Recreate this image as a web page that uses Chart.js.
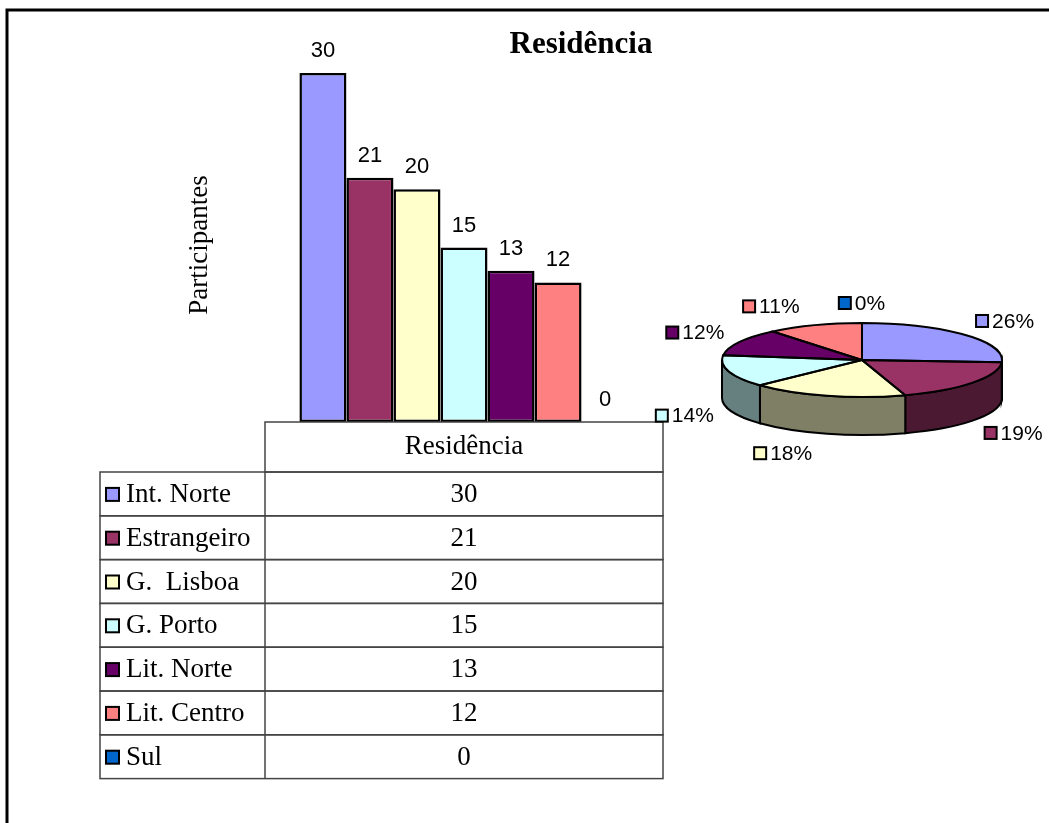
<!DOCTYPE html>
<html>
<head>
<meta charset="utf-8">
<title>Residência</title>
<script src="https://cdn.jsdelivr.net/npm/chart.js@4.4.1/dist/chart.umd.min.js"></script>
<style>
  html, body { margin: 0; padding: 0; background: #fff; }
  #wrap { position: relative; width: 1049px; height: 823px; overflow: hidden; }
  #wrap canvas { position: absolute; left: 0; top: 0; }
  #pieChart { pointer-events: none; }
</style>
</head>
<body>
<div id="wrap">
  <canvas id="barChart" width="1049" height="823"></canvas>
  <canvas id="pieChart" width="1049" height="823"></canvas>
</div>
<script>
// dados
var categorias = ['Int. Norte', 'Estrangeiro', 'G.  Lisboa', 'G. Porto', 'Lit. Norte', 'Lit. Centro', 'Sul'];
var participantes = [30, 21, 20, 15, 13, 12, 0];
var percentagens = [26, 19, 18, 14, 12, 11, 0];
var serie = 'Residência';

var cores = ['#9999FF', '#993366', '#FFFFCC', '#CCFFFF', '#660066', '#FF8080', '#0066CC'];
// lados do bolo 3D = metade da luminosidade
var coresLado = cores.map(function (c) {
    var n = parseInt(c.slice(1), 16);
    var r = (n >> 16) >> 1, g = ((n >> 8) & 255) >> 1, b = (n & 255) >> 1;
    return 'rgb(' + r + ',' + g + ',' + b + ')';
});

var SERIF = "'Liberation Serif', 'Times New Roman', serif";
var SANS = "'Liberation Sans', Arial, sans-serif";

function chave(ctx, x, y, cor, lado) {
    ctx.fillStyle = cor;
    ctx.fillRect(x, y, lado, lado);
    ctx.lineWidth = 2;
    ctx.strokeStyle = '#000';
    ctx.strokeRect(x, y, lado, lado);
}

// moldura, titulo, etiquetas das barras e tabela de dados
var tabelaPlugin = {
    id: 'tabela',
    afterDraw: function (chart) {
        var ctx = chart.ctx;
        var area = chart.chartArea;
        ctx.save();

        ctx.lineWidth = 3;
        ctx.strokeStyle = '#000';
        ctx.strokeRect(7, 10, 1100, 900);

        ctx.fillStyle = '#000';
        ctx.font = 'bold 31px ' + SERIF;
        ctx.textAlign = 'center';
        ctx.textBaseline = 'middle';
        ctx.fillText(serie, 581, 45);

        ctx.save();
        ctx.translate(200, 245);
        ctx.rotate(-Math.PI / 2);
        ctx.font = '27px ' + SERIF;
        ctx.fillText('Participantes', 0, 0);
        ctx.restore();

        // valores por cima das barras
        ctx.font = '22px ' + SANS;
        chart.data.datasets.forEach(function (ds, i) {
            var bar = chart.getDatasetMeta(i).data[0];
            ctx.fillText(String(ds.data[0]), bar.x, bar.y - 22);
        });

        // tabela
        var x0 = 100, x1 = area.left, x2 = area.right;
        var topo = area.bottom, cab = 50, linha = 43.8;
        ctx.strokeStyle = '#444';
        ctx.lineWidth = 1.5;
        ctx.strokeRect(x1, topo, x2 - x1, cab);
        ctx.font = '27px ' + SERIF;
        ctx.fillStyle = '#000';
        ctx.fillText(serie, (x1 + x2) / 2, topo + cab / 2);

        categorias.forEach(function (nome, i) {
            var y = topo + cab + i * linha;
            ctx.strokeStyle = '#444';
            ctx.lineWidth = 1.5;
            ctx.strokeRect(x0, y, x2 - x0, linha);
            ctx.beginPath();
            ctx.moveTo(x1, y);
            ctx.lineTo(x1, y + linha);
            ctx.stroke();
            chave(ctx, x0 + 6, y + linha / 2 - 6, cores[i], 13);
            ctx.fillStyle = '#000';
            ctx.textAlign = 'left';
            ctx.fillText(nome, x0 + 26, y + linha / 2 + 1);
            ctx.textAlign = 'center';
            ctx.fillText(String(participantes[i]), (x1 + x2) / 2, y + linha / 2 + 1);
        });
        ctx.restore();
    }
};

var barChart = new Chart(document.getElementById('barChart'), {
    type: 'bar',
    data: {
        labels: [serie],
        datasets: categorias.map(function (nome, i) {
            return {
                label: nome,
                data: [participantes[i]],
                backgroundColor: cores[i],
                borderColor: '#000',
                borderWidth: 2.5,
                borderSkipped: false,
                categoryPercentage: 0.827,
                barPercentage: 1
            };
        })
    },
    options: {
        responsive: false,
        animation: false,
        layout: { padding: { left: 265, right: 386, top: 73, bottom: 401 } },
        scales: {
            x: { display: false },
            y: { display: false, min: 0, max: 30 }
        },
        plugins: { legend: { display: false }, tooltip: { enabled: false } }
    },
    plugins: [tabelaPlugin]
});

// bolo em perspetiva: achata o desenho e acrescenta a parede da frente
var ACHATAR = 37 / 140;
var ALTURA = 38;

var bolo3d = {
    id: 'bolo3d',
    beforeDatasetsDraw: function (chart) {
        var ctx = chart.ctx;
        var arcos = chart.getDatasetMeta(0).data;
        var cx = arcos[0].x, cy = arcos[0].y, r = arcos[0].outerRadius, ry = r * ACHATAR;

        arcos.forEach(function (arco, i) {
            var s = Math.max(arco.startAngle, 0);
            var e = Math.min(arco.endAngle, Math.PI);
            if (e <= s) return;
            ctx.beginPath();
            ctx.ellipse(cx, cy, r, ry, 0, s, e);
            ctx.lineTo(cx + r * Math.cos(e), cy + ALTURA + ry * Math.sin(e));
            ctx.ellipse(cx, cy + ALTURA, r, ry, 0, e, s, true);
            ctx.closePath();
            ctx.fillStyle = coresLado[i];
            ctx.fill();
            ctx.lineWidth = 2;
            ctx.strokeStyle = '#000';
            ctx.stroke();
        });

        ctx.save();
        ctx.translate(cx, cy);
        ctx.scale(1, ACHATAR);
        ctx.translate(-cx, -cy);
    },
    afterDatasetsDraw: function (chart) {
        var ctx = chart.ctx;
        ctx.restore();
        var arcos = chart.getDatasetMeta(0).data;
        var cx = arcos[0].x, cy = arcos[0].y, r = arcos[0].outerRadius, ry = r * ACHATAR;

        ctx.save();
        ctx.lineWidth = 2;
        ctx.strokeStyle = '#000';
        arcos.forEach(function (arco) {
            if (arco.endAngle - arco.startAngle <= 0) return;
            ctx.beginPath();
            ctx.moveTo(cx, cy);
            ctx.ellipse(cx, cy, r, ry, 0, arco.startAngle, arco.endAngle);
            ctx.closePath();
            ctx.stroke();
        });

        // etiquetas de percentagem com a chave da cor
        ctx.font = '21px ' + SANS;
        ctx.textBaseline = 'middle';
        ctx.textAlign = 'left';
        arcos.forEach(function (arco, i) {
            var m = (arco.startAngle + arco.endAngle) / 2;
            var c = Math.cos(m), s = Math.sin(m);
            var px = cx + r * c;
            var ly = cy + (ry + 20) * s + (s > 0.05 ? ALTURA : 0);
            var txt = chart.data.datasets[0].data[i] + '%';
            var w = 12 + 4 + ctx.measureText(txt).width;
            var x;
            if (c > 0.01) x = px + 12;
            else if (c < -0.01) x = px - 15 - w;
            else x = px - w / 2;
            chave(ctx, x, ly - 6, cores[i], 12);
            ctx.fillStyle = '#000';
            ctx.fillText(txt, x + 16, ly + 1);
        });
        ctx.restore();
    }
};

var pieChart = new Chart(document.getElementById('pieChart'), {
    type: 'pie',
    data: {
        labels: categorias,
        datasets: [{
            data: percentagens,
            backgroundColor: cores,
            borderWidth: 0,
            hoverOffset: 0,
            offset: 0
        }]
    },
    options: {
        responsive: false,
        animation: false,
        layout: { padding: { left: 722, right: 47, top: 220, bottom: 323 } },
        plugins: { legend: { display: false }, tooltip: { enabled: false } }
    },
    plugins: [bolo3d]
});
</script>
</body>
</html>
